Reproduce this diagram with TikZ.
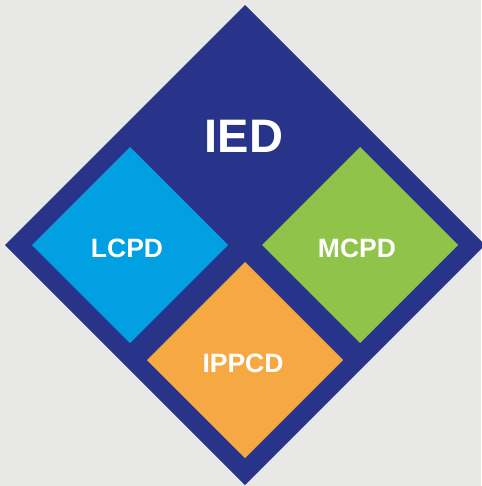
\documentclass[tikz,border=0pt]{standalone}
\usepackage{fontspec}
\setmainfont{Liberation Sans}
\definecolor{bg}{HTML}{E8E8E6}
\definecolor{navy}{HTML}{28338A}
\definecolor{sky}{HTML}{00A0E2}
\definecolor{leaf}{HTML}{90C34A}
\definecolor{amber}{HTML}{F6A942}
\begin{document}
\begin{tikzpicture}[x=1pt,y=-1pt,
  lab/.style={text=white,font=\bfseries\fontsize{26.5}{26.5}\selectfont}]
\fill[bg] (0,0) rectangle (481,486);
\useasboundingbox (0,0) rectangle (481,486);
\fill[navy] (245,5) -- (485,245) -- (245,485) -- (5,245) -- cycle;
\fill[sky] (130,147) -- (228,245) -- (130,343) -- (32,245) -- cycle;
\fill[leaf] (360,147) -- (458,245) -- (360,343) -- (262,245) -- cycle;
\fill[amber] (245,262) -- (343,360) -- (245,458) -- (147,360) -- cycle;
\node[text=white,font=\bfseries\fontsize{47}{47}\selectfont] (ied) at (244,136) {IED};
\node[lab] (lcpd) at (127,248) {LCPD};
\node[lab] (mcpd) at (357,248) {MCPD};
\node[lab] (ippcd) at (243,363) {IPPCD};
\end{tikzpicture}
\end{document}
